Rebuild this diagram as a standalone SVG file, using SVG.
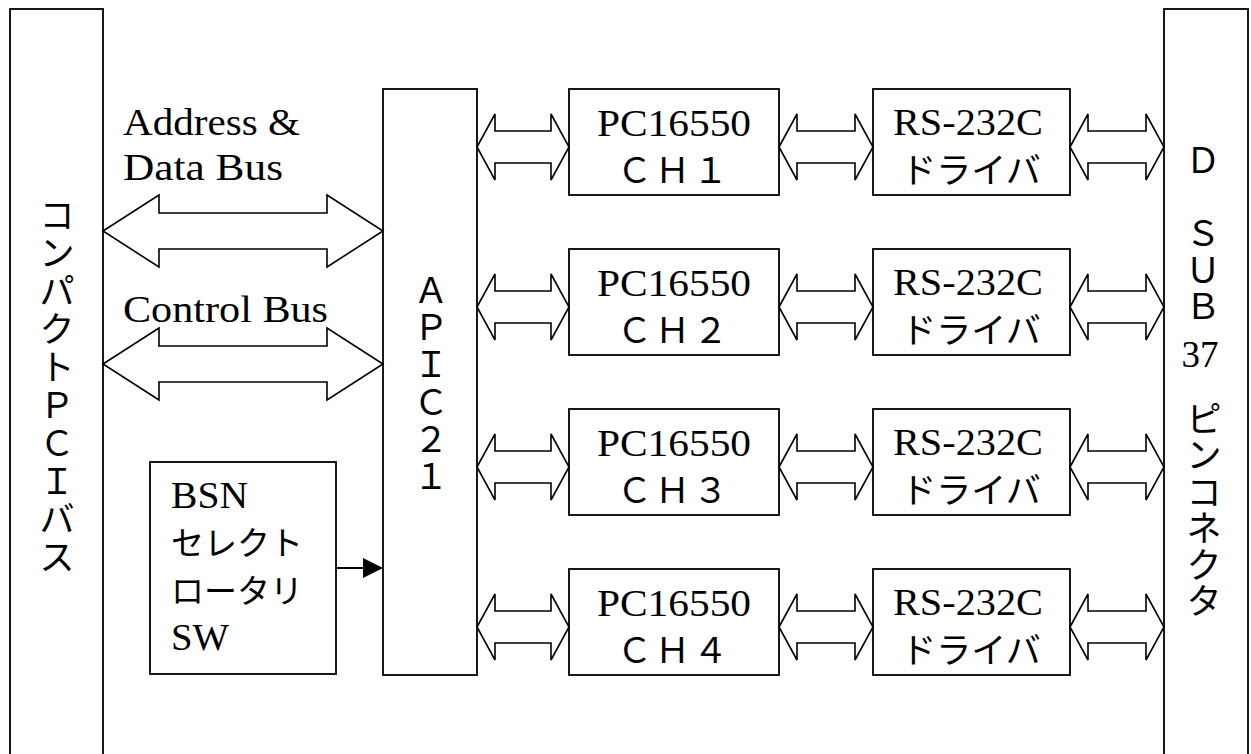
<svg xmlns="http://www.w3.org/2000/svg" width="1251" height="754" viewBox="0 0 1251 754">
<defs>
<style>
.box{fill:#fff;stroke:#000;stroke-width:1.8}
.arr{fill:#fff;stroke:#000;stroke-width:1.6;stroke-linejoin:miter}
.ser{font-family:"Liberation Serif",serif;font-size:37px;fill:#000}
.jp{font-family:"Noto Sans CJK JP",sans-serif;font-size:35px;fill:#000}
.jps{font-family:"Noto Sans CJK JP",sans-serif;font-size:33px;fill:#000}
.vc{font-family:"Noto Sans CJK JP",sans-serif;font-size:35px;fill:#000;text-anchor:middle}
</style>
<marker id="tri" markerWidth="20" markerHeight="20" refX="20" refY="10" orient="auto" markerUnits="userSpaceOnUse">
<path d="M0,0 L20,10 L0,20 Z" fill="#000"/>
</marker>
</defs>
<rect width="1251" height="754" fill="#fff"/>

<g id="pci-bus">
<rect class="box" x="10" y="9" width="93" height="760"/>
<text class="vc"><tspan x="57" y="228">コ</tspan><tspan x="57" y="266">ン</tspan><tspan x="57" y="304">パ</tspan><tspan x="57" y="342">ク</tspan><tspan x="57" y="380">ト</tspan><tspan x="57" y="418">Ｐ</tspan><tspan x="57" y="456">Ｃ</tspan><tspan x="57" y="494">Ｉ</tspan><tspan x="57" y="532">バ</tspan><tspan x="57" y="570">ス</tspan></text>
</g>

<g id="apic21">
<rect class="box" x="383" y="89" width="94" height="586"/>
<text class="vc"><tspan x="431" y="303">Ａ</tspan><tspan x="431" y="340">Ｐ</tspan><tspan x="431" y="377">Ｉ</tspan><tspan x="431" y="415">Ｃ</tspan><tspan x="431" y="452">２</tspan><tspan x="431" y="489">１</tspan></text>
</g>

<g id="dsub">
<rect class="box" x="1164" y="9" width="84" height="760"/>
<text class="vc"><tspan x="1203" y="173">Ｄ</tspan><tspan x="1203" y="246">Ｓ</tspan><tspan x="1203" y="283">Ｕ</tspan><tspan x="1203" y="319">Ｂ</tspan></text>
<text class="ser" x="1200" y="367" text-anchor="middle">37</text>
<text class="vc"><tspan x="1204" y="432">ピ</tspan><tspan x="1204" y="468">ン</tspan><tspan x="1204" y="505">コ</tspan><tspan x="1204" y="541">ネ</tspan><tspan x="1204" y="578">ク</tspan><tspan x="1204" y="614">タ</tspan></text>
</g>

<g id="bsn">
<rect class="box" x="150" y="462" width="186" height="212"/>
<text class="ser" x="171" y="508" textLength="77" lengthAdjust="spacingAndGlyphs">BSN</text>
<text class="jps" x="171" y="555">セレクト</text>
<text class="jps" x="171" y="603">ロータリ</text>
<text class="ser" x="171" y="650" textLength="58" lengthAdjust="spacingAndGlyphs">SW</text>
</g>

<g id="pc1">
<rect class="box" x="569" y="89" width="210" height="106"/>
<text class="ser" x="597" y="136" textLength="154" lengthAdjust="spacingAndGlyphs">PC16550</text>
<text class="jp" x="674" y="183" text-anchor="middle" letter-spacing="3">ＣＨ１</text>
</g>
<g id="pc2">
<rect class="box" x="569" y="249" width="210" height="106"/>
<text class="ser" x="597" y="296" textLength="154" lengthAdjust="spacingAndGlyphs">PC16550</text>
<text class="jp" x="674" y="343" text-anchor="middle" letter-spacing="3">ＣＨ２</text>
</g>
<g id="pc3">
<rect class="box" x="569" y="409" width="210" height="106"/>
<text class="ser" x="597" y="456" textLength="154" lengthAdjust="spacingAndGlyphs">PC16550</text>
<text class="jp" x="674" y="503" text-anchor="middle" letter-spacing="3">ＣＨ３</text>
</g>
<g id="pc4">
<rect class="box" x="569" y="569" width="210" height="106"/>
<text class="ser" x="597" y="616" textLength="154" lengthAdjust="spacingAndGlyphs">PC16550</text>
<text class="jp" x="674" y="663" text-anchor="middle" letter-spacing="3">ＣＨ４</text>
</g>

<g id="rs1">
<rect class="box" x="873" y="89" width="197" height="106"/>
<text class="ser" x="893" y="135" textLength="150" lengthAdjust="spacingAndGlyphs">RS-232C</text>
<text class="jp" x="971" y="183" text-anchor="middle">ドライバ</text>
</g>
<g id="rs2">
<rect class="box" x="873" y="249" width="197" height="106"/>
<text class="ser" x="893" y="295" textLength="150" lengthAdjust="spacingAndGlyphs">RS-232C</text>
<text class="jp" x="971" y="343" text-anchor="middle">ドライバ</text>
</g>
<g id="rs3">
<rect class="box" x="873" y="409" width="197" height="106"/>
<text class="ser" x="893" y="455" textLength="150" lengthAdjust="spacingAndGlyphs">RS-232C</text>
<text class="jp" x="971" y="503" text-anchor="middle">ドライバ</text>
</g>
<g id="rs4">
<rect class="box" x="873" y="569" width="197" height="106"/>
<text class="ser" x="893" y="615" textLength="150" lengthAdjust="spacingAndGlyphs">RS-232C</text>
<text class="jp" x="971" y="663" text-anchor="middle">ドライバ</text>
</g>

<g id="connectors">
<text class="ser" x="123" y="135" textLength="177" lengthAdjust="spacingAndGlyphs">Address &amp;</text>
<text class="ser" x="123" y="180" textLength="160" lengthAdjust="spacingAndGlyphs">Data Bus</text>
<text class="ser" x="123" y="322" textLength="205" lengthAdjust="spacingAndGlyphs">Control Bus</text>
<polygon class="arr" points="103,231 159,195 159,213 327,213 327,195 383,231 327,267 327,249 159,249 159,267"/>
<polygon class="arr" points="103,364 159,328 159,346 327,346 327,328 383,364 327,400 327,382 159,382 159,400"/>
<line x1="336" y1="568" x2="383" y2="568" stroke="#000" stroke-width="1.8" marker-end="url(#tri)"/>

<polygon class="arr" points="477,147 495,114 495,131 551,131 551,114 569,147 551,180 551,163 495,163 495,180"/>
<polygon class="arr" points="477,307 495,274 495,291 551,291 551,274 569,307 551,340 551,323 495,323 495,340"/>
<polygon class="arr" points="477,467 495,434 495,451 551,451 551,434 569,467 551,500 551,483 495,483 495,500"/>
<polygon class="arr" points="477,627 495,594 495,611 551,611 551,594 569,627 551,660 551,643 495,643 495,660"/>

<polygon class="arr" points="779,147 797,114 797,131 855,131 855,114 873,147 855,180 855,163 797,163 797,180"/>
<polygon class="arr" points="779,307 797,274 797,291 855,291 855,274 873,307 855,340 855,323 797,323 797,340"/>
<polygon class="arr" points="779,467 797,434 797,451 855,451 855,434 873,467 855,500 855,483 797,483 797,500"/>
<polygon class="arr" points="779,627 797,594 797,611 855,611 855,594 873,627 855,660 855,643 797,643 797,660"/>

<polygon class="arr" points="1070,147 1088,114 1088,131 1146,131 1146,114 1164,147 1146,180 1146,163 1088,163 1088,180"/>
<polygon class="arr" points="1070,307 1088,274 1088,291 1146,291 1146,274 1164,307 1146,340 1146,323 1088,323 1088,340"/>
<polygon class="arr" points="1070,467 1088,434 1088,451 1146,451 1146,434 1164,467 1146,500 1146,483 1088,483 1088,500"/>
<polygon class="arr" points="1070,627 1088,594 1088,611 1146,611 1146,594 1164,627 1146,660 1146,643 1088,643 1088,660"/>
</g>
</svg>
